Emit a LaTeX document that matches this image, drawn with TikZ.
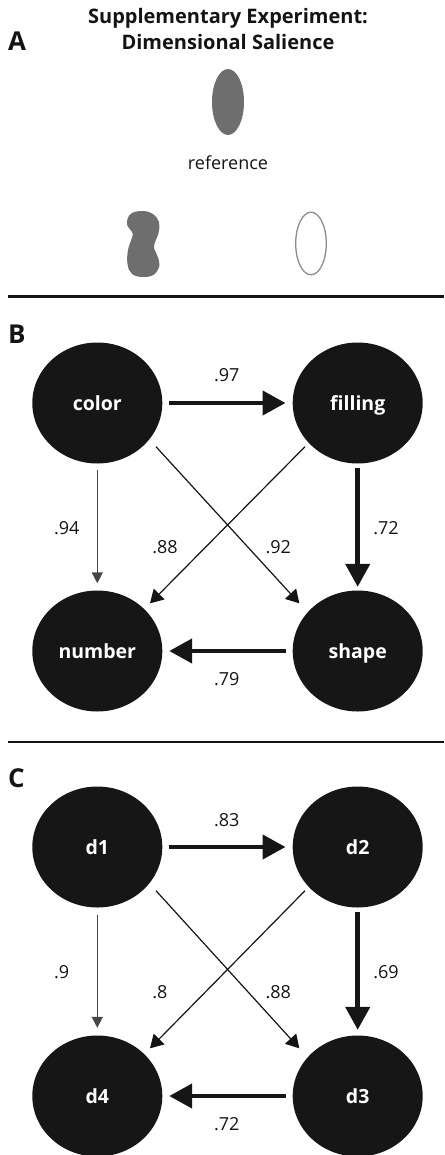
\documentclass[tikz,border=0pt]{standalone}
\usepackage{fontspec}
\setmainfont{Open Sans}
\usetikzlibrary{arrows.meta,shapes.geometric}

\definecolor{nodefill}{RGB}{22,22,22}
\definecolor{stimgray}{RGB}{110,110,110}
\definecolor{outlinegray}{RGB}{140,140,140}
\definecolor{thingray}{RGB}{70,70,70}
\definecolor{inkblack}{RGB}{20,20,20}

\begin{document}
\begin{tikzpicture}[x=1pt,y=-1pt,
  dim/.style={ellipse, fill=nodefill, minimum width=130pt, minimum height=121pt,
    inner sep=0pt, text=white, font=\fontsize{19.5}{23}\selectfont\bfseries,
    text height=14.6pt, text depth=0pt},
  weight/.style={font=\fontsize{18}{21}\selectfont, text=inkblack, anchor=base, inner sep=0pt},
  strong/.style={draw=nodefill, line width=4.5pt, -{Triangle[length=23pt,width=24pt]}},
  weak/.style={draw=thingray, line width=1.4pt, -{Triangle[length=11pt,width=11pt]}},
  cross/.style={draw=inkblack, line width=1.2pt, -{Triangle[length=13pt,width=15pt]}},
  panel/.style={font=\fontsize{26}{30}\selectfont\bfseries, text=inkblack, anchor=base west, inner sep=0pt},
  heading/.style={font=\fontsize{20}{24}\selectfont\bfseries, text=inkblack, anchor=base, inner sep=0pt},
  sep/.style={draw=inkblack, line width=2.2pt}
]
\useasboundingbox (0,0) rectangle (444,1155);

% ---------- Panel A: stimuli ----------
\node[panel] (labA) at (8,50.7) {A};
\node[heading] (t1) at (228,24) {Supplementary Experiment:};
\node[heading] (t2) at (228,50) {Dimensional Salience};

\fill[stimgray] (228,102) ellipse [x radius=16, y radius=33];
\node[weight] (ref) at (228,169.5) {reference};

\fill[stimgray] plot[smooth cycle, tension=0.65] coordinates {
  (143,211) (153,214) (159,222) (158.5,233) (154,246) (157,255) (159.5,265)
  (154,274.5) (143,277) (132,274) (127.5,264) (128,250) (131.5,239) (132.5,233)
  (127.5,226) (127.5,219) (132,213)};
\draw[outlinegray, line width=1.3pt] (311,243.5) ellipse [x radius=15.3, y radius=31.3];

\coordinate (r1a) at (8,296.5);
\coordinate (r1b) at (444,296.5);
\draw[sep] (r1a) -- (r1b);

% ---------- Panel B: dimension graph ----------
\node[panel] (labB) at (8,343.3) {B};

\node[dim] (color)   at (97.3,403)  {color};
\node[dim] (filling) at (357.7,403) {filling};
\node[dim] (number)  at (97.3,651)  {number};
\node[dim] (shape)   at (357.7,651) {shape};

\draw[strong, shorten <=6.7pt, shorten >=7pt] (color) -- (filling);
\draw[strong, shorten <=4.5pt, shorten >=3.5pt] (filling) -- (shape);
\draw[strong, shorten <=6.7pt, shorten >=6.7pt] (shape) -- (number);
\draw[weak, shorten <=6.5pt, shorten >=7pt] (color) -- (number);
\draw[cross] ([shift={(58.7,43.7)}]color.center) -- ([shift={(-58.4,-47.7)}]shape.center);
\draw[cross] ([shift={(-52.7,43.7)}]filling.center) -- ([shift={(52.7,-47.7)}]number.center);

\node[weight] (wB1) at (226.7,381.7) {.97};
\node[weight] (wB2) at (66.7,534)   {.94};
\node[weight] (wB3) at (165,553)    {.88};
\node[weight] (wB4) at (278.3,553)  {.92};
\node[weight] (wB5) at (386,534)    {.72};
\node[weight] (wB6) at (226.7,685)  {.79};

\coordinate (r2a) at (8,741.7);
\coordinate (r2b) at (444,741.7);
\draw[sep] (r2a) -- (r2b);

% ---------- Panel C: abstract dimensions ----------
\node[panel] (labC) at (8,787) {C};

\node[dim] (d1) at (97.3,847)   {d1};
\node[dim] (d2) at (357.7,847)  {d2};
\node[dim] (d4) at (97.3,1096)  {d4};
\node[dim] (d3) at (357.7,1096) {d3};

\draw[strong, shorten <=6.7pt, shorten >=7pt] (d1) -- (d2);
\draw[strong, shorten <=4.5pt, shorten >=5.5pt] (d2) -- (d3);
\draw[strong, shorten <=6.7pt, shorten >=6.7pt] (d3) -- (d4);
\draw[weak, shorten <=7.5pt, shorten >=7.5pt] (d1) -- (d4);
\draw[cross] ([shift={(58.7,43.7)}]d1.center) -- ([shift={(-58.4,-47.7)}]d3.center);
\draw[cross] ([shift={(-52.7,43.7)}]d2.center) -- ([shift={(52.7,-47.7)}]d4.center);

\node[weight] (wC1) at (226.7,826.7) {.83};
\node[weight] (wC2) at (61.7,978.3)  {.9};
\node[weight] (wC3) at (160,998)     {.8};
\node[weight] (wC4) at (278.3,998)   {.88};
\node[weight] (wC5) at (386,978)     {.69};
\node[weight] (wC6) at (226.7,1130)  {.72};
\end{tikzpicture}
\end{document}
